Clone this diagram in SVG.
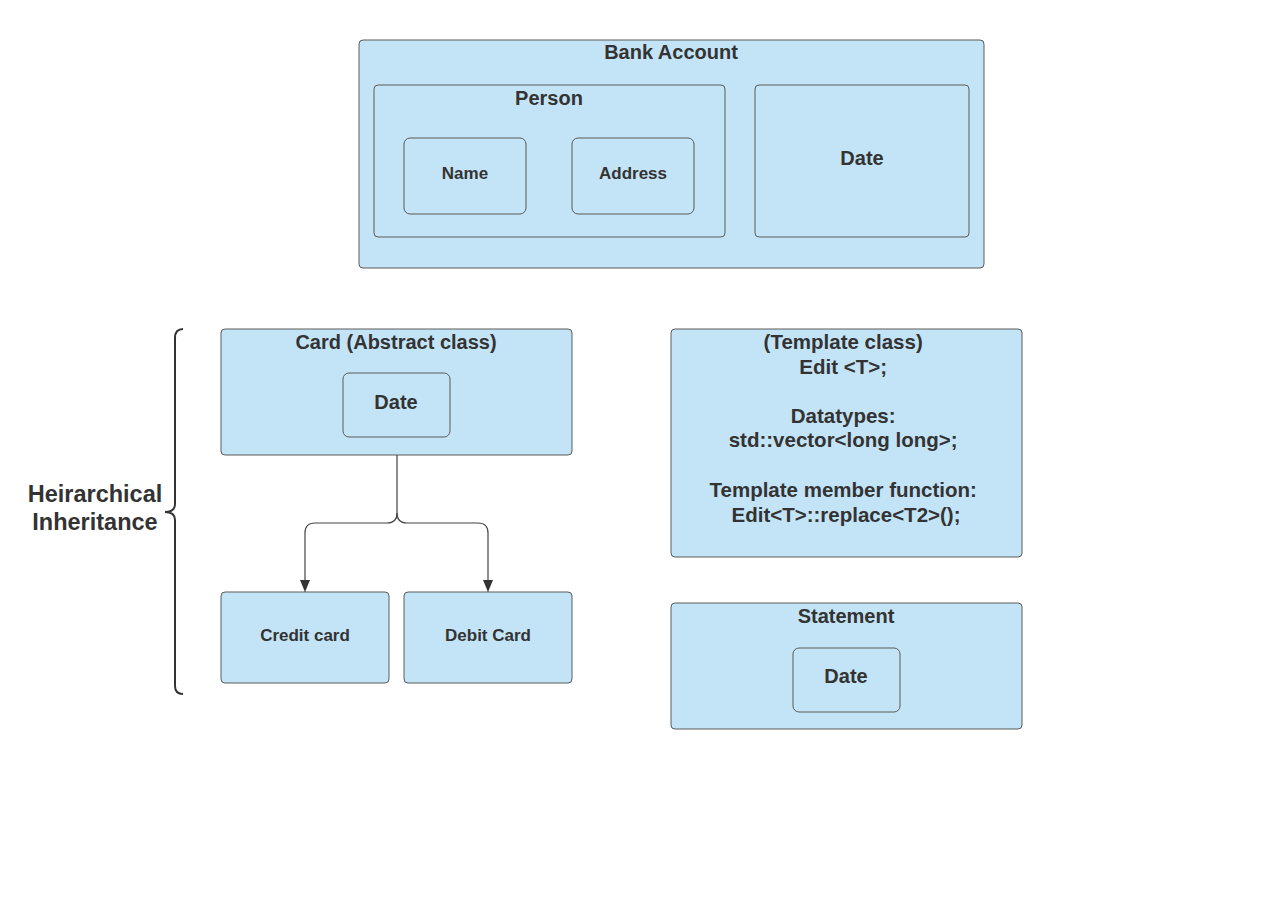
<svg xmlns="http://www.w3.org/2000/svg" width="1280" height="923" viewBox="0 0 1280 923">
<style>
.box{fill:#c3e4f6;stroke:#5a5a5a;stroke-width:1}
.t{font-family:"Liberation Sans",Arial,sans-serif;font-weight:bold;fill:#333;text-anchor:middle}
.c{fill:none;stroke:#444;stroke-width:1.2}
</style>
<defs>
<marker id="arr" markerWidth="10" markerHeight="14" refX="12" refY="5" orient="auto" markerUnits="userSpaceOnUse">
<path d="M0,0 L12,5 L0,10 z" fill="#333"/>
</marker>
</defs>
<rect width="1280" height="923" fill="#fff"/>
<g id="bank-account">
<rect class="box" x="359" y="40" width="625" height="228" rx="4"/>
<text class="t" x="671" y="59" font-size="20">Bank Account</text>
</g>
<g id="person">
<rect class="box" x="374" y="85" width="351" height="152" rx="4"/>
<text class="t" x="549" y="105" font-size="20">Person</text>
</g>
<g id="name">
<rect class="box" x="404" y="138" width="122" height="76" rx="6"/>
<text class="t" x="465" y="179" font-size="17">Name</text>
</g>
<g id="address">
<rect class="box" x="572" y="138" width="122" height="76" rx="6"/>
<text class="t" x="633" y="179" font-size="17">Address</text>
</g>
<g id="date-bank">
<rect class="box" x="755" y="85" width="214" height="152" rx="4"/>
<text class="t" x="862" y="165" font-size="20">Date</text>
</g>
<g id="card">
<rect class="box" x="221" y="329" width="351" height="126" rx="4"/>
<text class="t" x="396" y="349" font-size="20">Card (Abstract class)</text>
</g>
<g id="date-card">
<rect class="box" x="343" y="373" width="107" height="64" rx="6"/>
<text class="t" x="396" y="409" font-size="20">Date</text>
</g>
<g id="credit-card">
<rect class="box" x="221" y="592" width="168" height="91" rx="4"/>
<text class="t" x="305" y="641" font-size="17">Credit card</text>
</g>
<g id="debit-card">
<rect class="box" x="404" y="592" width="168" height="91" rx="4"/>
<text class="t" x="488" y="641" font-size="17">Debit Card</text>
</g>
<g id="template">
<rect class="box" x="671" y="329" width="351" height="228" rx="4"/>
<text class="t" font-size="20.5">
<tspan x="846" y="349">(Template class)</tspan>
<tspan x="846" y="374">Edit &lt;T&gt;;</tspan>
<tspan x="846" y="423">Datatypes:</tspan>
<tspan x="846" y="447">std::vector&lt;long long&gt;;</tspan>
<tspan x="846" y="497">Template member function:</tspan>
<tspan x="846" y="522">Edit&lt;T&gt;::replace&lt;T2&gt;();</tspan>
</text>
</g>
<g id="statement">
<rect class="box" x="671" y="603" width="351" height="126" rx="4"/>
<text class="t" x="846" y="623" font-size="20">Statement</text>
</g>
<g id="date-statement">
<rect class="box" x="793" y="648" width="107" height="64" rx="6"/>
<text class="t" x="846" y="683" font-size="20">Date</text>
</g>
<g id="heirarchical-label">
<path d="M183,329 Q175,329 175,338 L175,504 Q175,512 165,512 Q175,512 175,520 L175,686 Q175,694 183,694" fill="none" stroke="#333" stroke-width="2"/>
<text class="t" font-size="23.5"><tspan x="95" y="502">Heirarchical</tspan><tspan x="95" y="530">Inheritance</tspan></text>
</g>
<g id="connectors">
<path class="c" d="M397,455 L397,513 Q397,523 387,523 L315,523 Q305,523 305,533 L305,592" marker-end="url(#arr)"/>
<path class="c" d="M397,513 Q397,523 407,523 L478,523 Q488,523 488,533 L488,592" marker-end="url(#arr)"/>
</g>
</svg>
